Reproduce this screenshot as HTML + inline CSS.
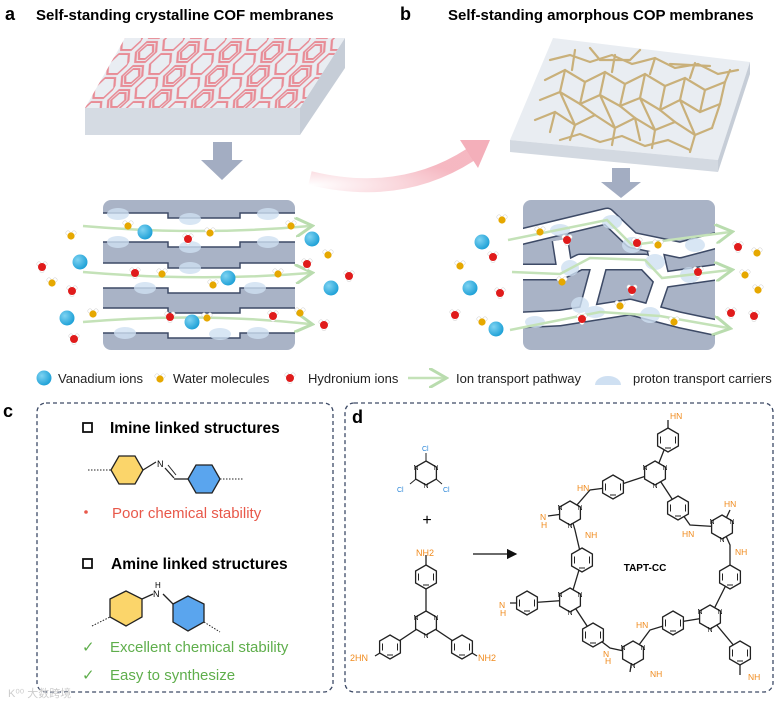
<!DOCTYPE html>
<html><head><meta charset="utf-8"><style>
html,body{margin:0;padding:0;background:#fff;}
svg{display:block;font-family:"Liberation Sans",Arial,sans-serif;}
</style></head><body>
<svg width="784" height="707" viewBox="0 0 784 707" xmlns="http://www.w3.org/2000/svg">
<defs>
<pattern id="hexp" width="42" height="24" patternUnits="userSpaceOnUse" patternTransform="translate(100,40) skewX(-30)">
<g fill="none" stroke="#e88c96" stroke-width="2">
<polygon points="6,2 16,2 21,12 16,22 6,22 1,12"/>
<polygon points="8,5 14,5 18,12 14,19 8,19 4,12"/>
<polygon points="27,-10 37,-10 42,0 37,10 27,10 22,0"/>
<polygon points="27,14 37,14 42,24 37,34 27,34 22,24"/>
</g>
</pattern>
<radialGradient id="bl" cx="0.35" cy="0.35" r="0.7"><stop offset="0" stop-color="#7fd3f2"/><stop offset="1" stop-color="#1a9fd6"/></radialGradient>
<radialGradient id="pk" cx="0" cy="1" r="1"><stop offset="0" stop-color="#fff"/><stop offset="1" stop-color="#f3a6b2"/></radialGradient>
<g id="bz"><polygon points="0,-12 10.4,-6 10.4,6 0,12 -10.4,6 -10.4,-6" fill="#fff" stroke="#222" stroke-width="1.3"/><line x1="-7.5" y1="-3.5" x2="-7.5" y2="3.5" stroke="#222"/><line x1="7.5" y1="-3.5" x2="7.5" y2="3.5" stroke="#222"/><line x1="-3" y1="8" x2="3" y2="8" stroke="#222"/></g>
<g id="tz"><polygon points="0,-12 10.4,-6 10.4,6 0,12 -10.4,6 -10.4,-6" fill="#fff" stroke="#222" stroke-width="1.3"/></g>
<g id="w"><circle cx="-3" cy="-3" r="2.2" fill="#fff" stroke="#ccc" stroke-width=".5"/><circle cx="3" cy="-3" r="2.2" fill="#fff" stroke="#ccc" stroke-width=".5"/><circle r="3.6" fill="#e6a800"/></g>
<g id="h"><circle cx="-3" cy="-3" r="2.2" fill="#fff" stroke="#ccc" stroke-width=".5"/><circle cx="3" cy="-3" r="2.2" fill="#fff" stroke="#ccc" stroke-width=".5"/><circle cx="0" cy="3.5" r="2.2" fill="#fff" stroke="#ccc" stroke-width=".5"/><circle r="4" fill="#e01b1b"/></g>
<g id="v"><circle r="7.5" fill="url(#bl)"/></g>
<marker id="ga" markerWidth="8" markerHeight="8" refX="6" refY="4" orient="auto"><path d="M0,0 L7,4 L0,8" fill="none" stroke="#b9dcae" stroke-width="1.2"/></marker>
<marker id="ka" markerWidth="8" markerHeight="8" refX="7" refY="4" orient="auto"><path d="M0,0 L8,4 L0,8 Z" fill="#111"/></marker>
</defs>

<text x="5" y="20" font-size="18" font-weight="bold">a</text>
<text x="36" y="20" font-size="15" font-weight="bold">Self-standing crystalline COF membranes</text>
<text x="400" y="20" font-size="18" font-weight="bold">b</text>
<text x="448" y="20" font-size="15" font-weight="bold">Self-standing amorphous COP membranes</text>

<!-- slab a -->
<polygon points="125,38 345,38 300,108 85,108" fill="#e9edf2"/>
<polygon points="125,38 345,38 300,108 85,108" fill="url(#hexp)"/>
<polygon points="85,108 300,108 300,135 85,135" fill="#d5dbe3"/>
<polygon points="300,108 345,38 345,68 300,135" fill="#c6cdd7"/>
<polygon points="213,142 232,142 232,160 243,160 222,180 201,160 213,160" fill="#a3adc2"/>
<path d="M310,178 Q400,200 470,155" fill="none" stroke="url(#pk)" stroke-width="14" opacity="0.8"/>
<polygon points="460,140 490,140 478,168" fill="#f3a6b2" opacity="0.9"/>

<!-- membrane a -->
<rect x="103" y="200" width="192" height="150" rx="8" fill="#a9b3c6"/>
<path d="M103,213 H168 V218 H240 V213 H295 V242 H240 V247 H168 V242 H103 Z" fill="#fff"/>
<path d="M103,263 H168 V268 H240 V263 H295 V288 H240 V293 H168 V288 H103 Z" fill="#fff"/>
<path d="M103,308 H168 V313 H240 V308 H295 V333 H240 V338 H168 V333 H103 Z" fill="#fff"/>
<g fill="none" stroke="#3d4a66" stroke-width="1.5">
<path d="M103,213 H168 V218 H240 V213 H295"/><path d="M103,242 H168 V247 H240 V242 H295"/>
<path d="M103,263 H168 V268 H240 V263 H295"/><path d="M103,288 H168 V293 H240 V288 H295"/>
<path d="M103,308 H168 V313 H240 V308 H295"/><path d="M103,333 H168 V338 H240 V333 H295"/>
</g>
<g fill="#cfe0f2" opacity="0.8">
<ellipse cx="118" cy="214" rx="11" ry="6"/><ellipse cx="190" cy="219" rx="11" ry="6"/><ellipse cx="268" cy="214" rx="11" ry="6"/>
<ellipse cx="118" cy="242" rx="11" ry="6"/><ellipse cx="190" cy="247" rx="11" ry="6"/><ellipse cx="268" cy="242" rx="11" ry="6"/>
<ellipse cx="145" cy="288" rx="11" ry="6"/><ellipse cx="190" cy="268" rx="11" ry="6"/><ellipse cx="255" cy="288" rx="11" ry="6"/>
<ellipse cx="125" cy="333" rx="11" ry="6"/><ellipse cx="220" cy="334" rx="11" ry="6"/><ellipse cx="258" cy="333" rx="11" ry="6"/>
</g>
<g fill="none" stroke="#c4e2b8" stroke-width="2.5" marker-end="url(#ga)">
<path d="M83,226 Q200,236 310,226"/><path d="M83,272 Q200,282 310,273"/><path d="M83,322 Q200,312 310,324"/>
</g>
<use href="#v" x="145" y="232"/><use href="#v" x="80" y="262"/><use href="#v" x="228" y="278"/><use href="#v" x="67" y="318"/><use href="#v" x="192" y="322"/><use href="#v" x="312" y="239"/><use href="#v" x="331" y="288"/>
<use href="#w" x="128" y="226"/><use href="#w" x="71" y="236"/><use href="#w" x="210" y="233"/><use href="#w" x="291" y="226"/><use href="#w" x="328" y="255"/><use href="#w" x="162" y="274"/><use href="#w" x="52" y="283"/><use href="#w" x="213" y="285"/><use href="#w" x="278" y="274"/><use href="#w" x="93" y="314"/><use href="#w" x="207" y="318"/><use href="#w" x="300" y="313"/>
<use href="#h" x="188" y="239"/><use href="#h" x="42" y="267"/><use href="#h" x="135" y="273"/><use href="#h" x="72" y="291"/><use href="#h" x="307" y="264"/><use href="#h" x="349" y="276"/><use href="#h" x="170" y="317"/><use href="#h" x="273" y="316"/><use href="#h" x="74" y="339"/><use href="#h" x="324" y="325"/>

<!-- slab b -->
<polygon points="553,38 750,62 718,160 510,140" fill="#e9edf2"/>
<polygon points="510,140 718,160 718,172 510,152" fill="#d3d9e1"/>
<polygon points="750,62 718,160 718,172 750,74" fill="#c6cdd7"/>
<g stroke="#c9b07a" stroke-width="2.2" fill="none" stroke-linecap="round">
<path d="M545,80 L565,70 L585,82 L605,72 L625,84 L645,74 L665,86 L685,78 L705,90 L725,82"/>
<path d="M540,100 L560,92 L580,104 L600,95 L620,106 L640,98 L660,110 L680,100 L700,112 L720,104"/>
<path d="M535,120 L555,112 L575,125 L595,115 L615,128 L635,118 L655,130 L675,122 L695,135 L712,128"/>
<path d="M550,60 L570,55 L590,62 L612,55 L632,64 L655,58 L675,68 L698,64 L718,74 L738,70"/>
<path d="M560,140 L580,134 L600,142 L622,136 L645,146 L668,140 L690,150"/>
<path d="M565,70 L560,92 L575,125 L570,140 M605,72 L600,95 L615,128 L612,145 M645,74 L640,98 L655,130 L652,148 M685,78 L680,100 L695,135 L690,152 M585,82 L580,104 M625,84 L620,106 M665,86 L660,110 M705,90 L700,112 M555,112 L550,132 M635,118 L640,140 M725,82 L720,104 L712,128"/>
<path d="M575,50 L572,70 M615,55 L612,72 M655,58 L650,74 M695,63 L690,78 M730,70 L725,82 M590,48 L600,60 L630,60 L640,50 M670,64 L710,66 M580,104 L595,115 M620,106 L635,118 M660,110 L675,122"/>
</g>
<polygon points="612,168 630,168 630,182 641,182 621,198 601,182 612,182" fill="#a3adc2"/>

<!-- membrane b -->
<rect x="523" y="200" width="192" height="150" rx="8" fill="#a9b3c6"/>
<g fill="none" stroke-linejoin="round">
<g stroke="#3d4a66" stroke-width="17">
<path d="M520,237 L607,216 L632,240 L680,250 L718,240"/>
<path d="M520,272 L560,272 L580,262 L645,262 L662,280 L718,272"/>
<path d="M520,320 L560,318 L630,307 L680,320 L718,328"/>
<path d="M560,240 L565,272 M600,262 L585,318 M655,250 L662,280 L650,315"/>
</g>
<g stroke="#fff" stroke-width="14">
<path d="M520,237 L607,216 L632,240 L680,250 L718,240"/>
<path d="M520,272 L560,272 L580,262 L645,262 L662,280 L718,272"/>
<path d="M520,320 L560,318 L630,307 L680,320 L718,328"/>
<path d="M560,240 L565,272 M600,262 L585,318 M655,250 L662,280 L650,315"/>
</g>
</g>
<rect x="515" y="200" width="8" height="150" fill="#fff"/><rect x="715" y="200" width="10" height="150" fill="#fff"/>
<g fill="#cfe0f2" opacity="0.8">
<ellipse cx="560" cy="230" rx="10" ry="6"/><ellipse cx="612" cy="222" rx="10" ry="7"/><ellipse cx="632" cy="245" rx="10" ry="8"/><ellipse cx="695" cy="245" rx="10" ry="7"/>
<ellipse cx="570" cy="268" rx="9" ry="8"/><ellipse cx="655" cy="262" rx="10" ry="8"/><ellipse cx="690" cy="275" rx="10" ry="8"/><ellipse cx="580" cy="305" rx="9" ry="8"/>
<ellipse cx="535" cy="322" rx="10" ry="6"/><ellipse cx="595" cy="312" rx="10" ry="6"/><ellipse cx="650" cy="315" rx="10" ry="8"/>
</g>
<g fill="none" stroke="#c4e2b8" stroke-width="2.5" marker-end="url(#ga)">
<path d="M508,240 L607,220 L632,245 L730,232"/><path d="M512,272 L560,274 L590,258 L645,260 L662,278 L730,270"/><path d="M510,330 L600,312 L660,316 L728,328"/>
</g>
<use href="#v" x="482" y="242"/><use href="#v" x="470" y="288"/><use href="#v" x="496" y="329"/>
<use href="#w" x="502" y="220"/><use href="#w" x="460" y="266"/><use href="#w" x="540" y="232"/><use href="#w" x="658" y="245"/><use href="#w" x="562" y="282"/><use href="#w" x="620" y="306"/><use href="#w" x="482" y="322"/><use href="#w" x="674" y="322"/><use href="#w" x="757" y="253"/><use href="#w" x="745" y="275"/><use href="#w" x="758" y="290"/>
<use href="#h" x="567" y="240"/><use href="#h" x="493" y="257"/><use href="#h" x="500" y="293"/><use href="#h" x="455" y="315"/><use href="#h" x="637" y="243"/><use href="#h" x="632" y="290"/><use href="#h" x="582" y="319"/><use href="#h" x="698" y="272"/><use href="#h" x="738" y="247"/><use href="#h" x="731" y="313"/><use href="#h" x="754" y="316"/>

<!-- legend -->
<g font-size="13" fill="#222">
<use href="#v" x="44" y="378"/><text x="58" y="383">Vanadium ions</text>
<use href="#w" x="160" y="379"/><text x="173" y="383">Water molecules</text>
<use href="#h" x="290" y="378"/><text x="308" y="383">Hydronium ions</text>
<path d="M408,378 L444,378" stroke="#c4e2b8" stroke-width="2.5" marker-end="url(#ga)"/><text x="456" y="383">Ion transport pathway</text>
<path d="M595,385 A13,9 0 0 1 621,385 Z" fill="#cfe0f2"/><text x="633" y="383">proton transport carriers</text>
</g>

<!-- panel c -->
<text x="3" y="417" font-size="18" font-weight="bold">c</text>
<rect x="37" y="403" width="296" height="289" rx="9" fill="none" stroke="#3d4a66" stroke-width="1.3" stroke-dasharray="4,3"/>
<rect x="83" y="423" width="9" height="9" fill="none" stroke="#111" stroke-width="1.8"/>
<text x="110" y="433" font-size="15.5" font-weight="bold">Imine linked structures</text>
<polygon points="111,470 119,456 135,456 143,470 135,484 119,484" fill="#fbd56a" stroke="#222" stroke-width="1.3"/>
<line x1="88" y1="470" x2="111" y2="470" stroke="#222" stroke-dasharray="1.5,1.5"/>
<line x1="143" y1="470" x2="156" y2="462" stroke="#222" stroke-width="1.3"/>
<text x="157" y="467" font-size="9">N</text>
<line x1="165" y1="468" x2="174" y2="478" stroke="#222" stroke-width="1.3"/><line x1="168" y1="465" x2="176" y2="475" stroke="#222"/>
<line x1="174" y1="479" x2="188" y2="479" stroke="#222" stroke-width="1.3"/>
<polygon points="188,479 196,465 212,465 220,479 212,493 196,493" fill="#5aa5ee" stroke="#222" stroke-width="1.3"/>
<line x1="220" y1="479" x2="243" y2="479" stroke="#222" stroke-dasharray="1.5,1.5"/>
<circle cx="86" cy="512" r="1.8" fill="#e8584a"/>
<text x="112" y="518" font-size="15" fill="#e8584a">Poor chemical stability</text>
<rect x="83" y="559" width="9" height="9" fill="none" stroke="#111" stroke-width="1.8"/>
<text x="111" y="569" font-size="15.5" font-weight="bold">Amine linked structures</text>
<polygon points="110,599 126,591 142,599 142,617 126,626 110,617" fill="#fbd56a" stroke="#222" stroke-width="1.3"/>
<line x1="92" y1="626" x2="110" y2="617" stroke="#222" stroke-dasharray="1.5,1.5"/>
<line x1="142" y1="599" x2="153" y2="594" stroke="#222" stroke-width="1.3"/>
<text x="153" y="597" font-size="9">N</text><text x="155" y="588" font-size="8">H</text>
<line x1="163" y1="594" x2="173" y2="604" stroke="#222" stroke-width="1.3"/>
<polygon points="173,604 188,596 204,604 204,622 188,631 173,622" fill="#5aa5ee" stroke="#222" stroke-width="1.3"/>
<line x1="204" y1="622" x2="220" y2="632" stroke="#222" stroke-dasharray="1.5,1.5"/>
<g fill="#5fae4c" font-size="15"><text x="82" y="652">✓</text><text x="110" y="652">Excellent chemical stability</text>
<text x="82" y="680">✓</text><text x="110" y="680">Easy to synthesize</text></g>
<text x="8" y="697" font-size="11" fill="#ccc">K⁰⁰ 大数跨境</text>

<!-- panel d -->
<rect x="345" y="403" width="428" height="289" rx="9" fill="none" stroke="#3d4a66" stroke-width="1.3" stroke-dasharray="4,3"/>
<text x="352" y="423" font-size="18" font-weight="bold">d</text>
<line x1="426" y1="461" x2="426" y2="453" stroke="#222"/><line x1="416" y1="479" x2="410" y2="484" stroke="#222"/><line x1="436" y1="479" x2="442" y2="484" stroke="#222"/>
<use href="#tz" x="426" y="473"/>
<g font-size="7" fill="#2a86d8"><text x="422" y="451">Cl</text><text x="397" y="492">Cl</text><text x="443" y="492">Cl</text></g>
<g font-size="7" fill="#222" text-anchor="middle"><text x="416" y="470">N</text><text x="436" y="470">N</text><text x="426" y="488">N</text></g>
<text x="427" y="525" font-size="16" text-anchor="middle">+</text>
<g stroke="#222" stroke-width="1.3"><line x1="426" y1="623" x2="426" y2="555"/><line x1="426" y1="623" x2="390" y2="647"/><line x1="426" y1="623" x2="462" y2="647"/><line x1="390" y1="647" x2="375" y2="656"/><line x1="462" y1="647" x2="477" y2="656"/></g>
<use href="#bz" x="426" y="577"/><use href="#bz" x="390" y="647"/><use href="#bz" x="462" y="647"/><use href="#tz" x="426" y="623"/>
<g font-size="7" fill="#222" text-anchor="middle"><text x="416" y="620">N</text><text x="436" y="620">N</text><text x="426" y="638">N</text></g>
<g font-size="9" fill="#f08a1c"><text x="416" y="556">NH2</text><text x="350" y="661">2HN</text><text x="478" y="661">NH2</text></g>
<line x1="473" y1="554" x2="516" y2="554" stroke="#111" stroke-width="1.3" marker-end="url(#ka)"/>
<g stroke="#222" stroke-width="1.3" fill="none">
<path d="M668,420 L668,440 L655,473 L613,487 L590,490 L570,513 L548,516"/>
<path d="M655,473 L678,508 L690,525 L722,527 L730,510"/>
<path d="M570,513 L575,530 L582,560 L570,600 L527,603 L510,603"/>
<path d="M722,527 L730,545 L730,577 L710,617 L673,623 L650,630 L633,653 L630,672"/>
<path d="M570,600 L593,635 L610,648 L633,653"/>
<path d="M710,617 L740,653 L740,675"/>
</g>
<use href="#bz" x="668" y="440"/><use href="#bz" x="613" y="487"/><use href="#bz" x="678" y="508"/><use href="#bz" x="582" y="560"/><use href="#bz" x="730" y="577"/><use href="#bz" x="527" y="603"/><use href="#bz" x="593" y="635"/><use href="#bz" x="673" y="623"/><use href="#bz" x="740" y="653"/>
<use href="#tz" x="655" y="473"/><use href="#tz" x="570" y="513"/><use href="#tz" x="722" y="527"/><use href="#tz" x="570" y="600"/><use href="#tz" x="710" y="617"/><use href="#tz" x="633" y="653"/>
<g font-size="7" fill="#222" text-anchor="middle">
<text x="645" y="470">N</text><text x="665" y="470">N</text><text x="655" y="488">N</text>
<text x="560" y="510">N</text><text x="580" y="510">N</text><text x="570" y="528">N</text>
<text x="712" y="524">N</text><text x="732" y="524">N</text><text x="722" y="542">N</text>
<text x="560" y="597">N</text><text x="580" y="597">N</text><text x="570" y="615">N</text>
<text x="700" y="614">N</text><text x="720" y="614">N</text><text x="710" y="632">N</text>
<text x="623" y="650">N</text><text x="643" y="650">N</text><text x="633" y="668">N</text>
</g>
<g font-size="8.5" fill="#f08a1c">
<text x="670" y="419">HN</text><text x="577" y="491">HN</text><text x="540" y="520">N</text><text x="541" y="528">H</text>
<text x="585" y="538">NH</text><text x="724" y="507">HN</text><text x="682" y="537">HN</text><text x="735" y="555">NH</text>
<text x="499" y="608">N</text><text x="500" y="616">H</text><text x="636" y="628">HN</text><text x="603" y="657">N</text><text x="605" y="664">H</text>
<text x="650" y="677">NH</text><text x="748" y="680">NH</text>
</g>
<text x="645" y="571" font-size="10" font-weight="bold" text-anchor="middle">TAPT-CC</text>
</svg>
</body></html>
